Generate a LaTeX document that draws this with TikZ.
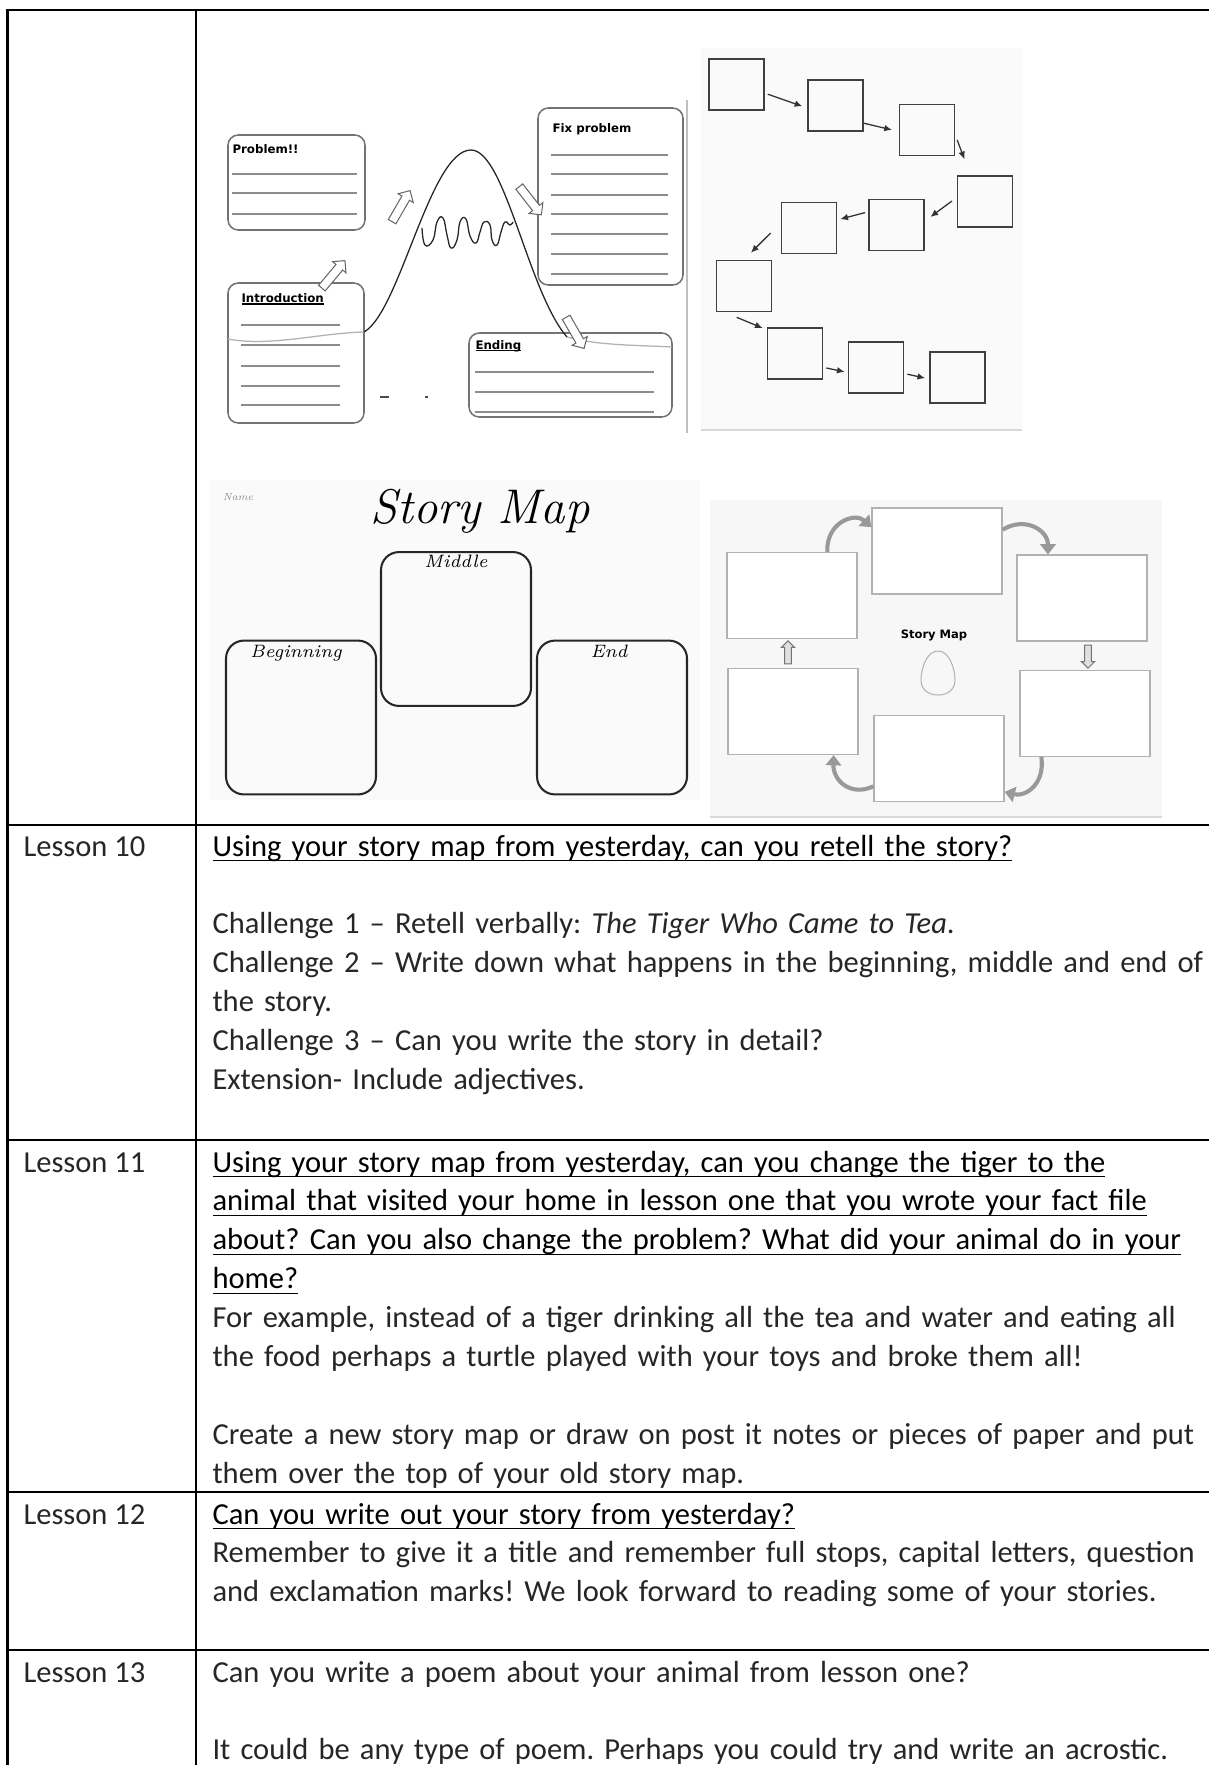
\documentclass[tikz,border=0pt]{standalone}
\usepackage{fontspec}
\usetikzlibrary{arrows.meta,shapes.arrows}
\newfontfamily\calib{Carlito}
\newfontfamily\comic{DejaVu Sans}
\newsavebox\headbox
\newcommand\undertext[2]{\leavevmode\sbox\headbox{#2}\rlap{\rule[-#1]{\wd\headbox}{0.45pt}}\usebox\headbox}
\newcommand\lessonhead[1]{{\color{black}\undertext{2pt}{#1}}}

\begin{document}
\begin{tikzpicture}[x=0.39pt,y=-0.39pt,
  rule/.style={line width=0.8pt},
  lesson/.style={anchor=base west,inner sep=0,font=\calib\fontsize{11.9}{15.2}\selectfont\frenchspacing,text=black!85},
  task/.style={anchor=base west,inner sep=0,text width=400pt,align=left,font=\calib\fontsize{11.9}{15.2}\selectfont\frenchspacing,text=black!85},
  mtbox/.style={draw=black!55,line width=0.6pt,rounded corners=4pt},
  mtline/.style={draw=black!45,line width=0.5pt},
  mtlabel/.style={anchor=west,inner sep=0,font=\comic\bfseries\fontsize{4.6}{5}\selectfont},
  hollow/.style={single arrow,draw=black!60,fill=white,line width=0.4pt,inner xsep=0,inner ysep=1.5pt,minimum height=14pt,single arrow head extend=1.7pt},
  flowbox/.style={draw=black!75,line width=0.6pt,minimum width=21.5pt,minimum height=20pt,inner sep=0},
  flowarr/.style={-{Latex[length=3pt,width=2.6pt]},line width=0.5pt,black!80},
  smbox/.style={draw=black!85,line width=0.8pt,rounded corners=7pt,minimum width=58.5pt,minimum height=60pt,inner sep=0},
  smlabel/.style={anchor=base,inner sep=0,font=\itshape\fontsize{7}{8}\selectfont},
  cmbox/.style={draw=black!30,line width=0.5pt,fill=white,minimum width=50.7pt,minimum height=33.5pt,inner sep=0},
  cmarr/.style={draw=black!40,line width=1.6pt,-{Triangle[length=4pt,width=6pt]}},
  cmblock/.style={single arrow,draw=black!55,fill=black!12,line width=0.4pt,inner xsep=0,inner ysep=1.1pt,minimum height=9pt,single arrow head extend=1.3pt}]
\useasboundingbox (0,0) rectangle (1209,1765);
% table
\draw[rule] (7.5,1765) -- (7.5,10) -- (1209,10);
\draw[rule] (196,10) -- (196,1765);
\draw[rule] (7.5,825) -- (1209,825);
\draw[rule] (7.5,1140) -- (1209,1140);
\draw[rule] (7.5,1492) -- (1209,1492);
\draw[rule] (7.5,1650) -- (1209,1650);
% story mountain
\draw[black!25,line width=0.4pt] (687,100) -- (687,433);
\draw[mtbox] (228,135) rectangle (365,230);
\node[mtlabel] (mtprob) at (232,149) {Problem!!};
\draw[mtline] (232,174) -- (357,174);
\draw[mtline] (232,193) -- (357,193);
\draw[mtline] (232,214) -- (357,214);
\draw[mtbox] (228,283) rectangle (364,423);
\node[mtlabel] (mtintro) at (241,299) {\undertext{0.8pt}{Introduction}};
\draw[mtline] (241,325) -- (340,325);
\draw[mtline] (241,345) -- (340,345);
\draw[mtline] (241,366) -- (340,366);
\draw[mtline] (241,386) -- (340,386);
\draw[mtline] (241,405) -- (340,405);
\draw[mtbox] (538,108) rectangle (683,285);
\node[mtlabel] (mtfix) at (552,129) {Fix problem};
\draw[mtline] (551,155) -- (668,155);
\draw[mtline] (551,174) -- (668,174);
\draw[mtline] (551,195) -- (668,195);
\draw[mtline] (551,214) -- (668,214);
\draw[mtline] (551,234) -- (668,234);
\draw[mtline] (551,254) -- (668,254);
\draw[mtline] (551,274) -- (668,274);
\draw[mtbox] (469,333) rectangle (672,417);
\node[mtlabel] (mtend) at (475,346) {\undertext{0.8pt}{Ending}};
\draw[mtline] (475,372) -- (654,372);
\draw[mtline] (475,392) -- (654,392);
\draw[mtline] (475,412) -- (654,412);
\draw[black!30,line width=0.5pt] (228,339) .. controls (270,347) and (320,333) .. (364,332);
\draw[black!30,line width=0.5pt] (567,337) .. controls (600,346) and (640,345) .. (672,347);
\draw[black!85,line width=0.5pt] (364,332) .. controls (400,312) and (430,150) .. (471,150) .. controls (505,150) and (528,292) .. (567,337);
\draw[black!85,line width=0.5pt] plot[smooth,tension=0.8] coordinates {(422,228) (425,245) (433,240) (437,222) (443,218) (447,235) (451,248) (457,240) (460,222) (466,219) (470,236) (476,243) (480,232) (484,222) (490,225) (492,240) (497,245) (501,232) (505,222) (510,225) (513,222)};
\node[hollow,rotate=50] (mtarr1) at (332,276) {};
\node[hollow,rotate=60] (mtarr2) at (400,208) {};
\node[hollow,rotate=-52] (mtarr3) at (529,199) {};
\node[hollow,rotate=-60] (mtarr4) at (574,331) {};
\draw[black!70,line width=0.6pt] (380,397) -- (389,397);
\draw[black!70,line width=0.6pt] (425,397) -- (428,397);
% flow of boxes
\fill[black!2] (701,48) rectangle (1022,430);
\draw[black!15,line width=0.8pt] (701,430) -- (1022,430);
\node[flowbox] (f1) at (736.5,84.5) {};
\node[flowbox] (f2) at (835.5,105.5) {};
\node[flowbox] (f3) at (927,130) {};
\node[flowbox] (f4) at (985,201.5) {};
\node[flowbox] (f5) at (896.5,225) {};
\node[flowbox] (f6) at (809,228) {};
\node[flowbox] (f7) at (744,286) {};
\node[flowbox] (f8) at (795,353.5) {};
\node[flowbox] (f9) at (876,367.5) {};
\node[flowbox] (f10) at (957.5,377.5) {};
\draw[flowarr,shorten <=1.2pt,shorten >=2pt] (f1.-17) -- (f2.185);
\draw[flowarr,shorten >=2.7pt] (f2.-32) -- (f3.183);
\draw[flowarr,shorten <=2pt,shorten >=6.6pt] (f3.-10) -- (f4.119);
\draw[flowarr,shorten <=2.3pt,shorten >=2.7pt] (f4.172) -- (f5.8);
\draw[flowarr,shorten <=1.2pt,shorten >=1.2pt] (f5.155) -- (f6.16);
\draw[flowarr,shorten <=5.5pt,shorten >=3.8pt] (f6.170) -- (f7.90);
\draw[flowarr,shorten <=5pt,shorten >=1.7pt] (f7.-126) -- (f8.140);
\draw[flowarr,shorten <=1.2pt,shorten >=1.2pt] (f8.-26) -- (f9.190);
\draw[flowarr,shorten <=1.2pt,shorten >=1.6pt] (f9.-12) -- (f10.183);
% story map, handwritten
\fill[black!2] (210,480) rectangle (700,800);
\node[inner sep=0,text=black!45,font=\itshape\fontsize{4}{5}\selectfont] (smname) at (238,497) {Name};
\node[anchor=base,inner sep=0,font=\itshape\fontsize{19}{20}\selectfont] (smtitle) at (480,523) {Story Map};
\node[smbox] (smmid) at (456,629) {};
\node[smbox] (smbeg) at (301,717.5) {};
\node[smbox] (smend) at (612,717.5) {};
\node[smlabel] (smlmid) at (456,567) {Middle};
\node[smlabel] (smlbeg) at (296,657) {Beginning};
\node[smlabel] (smlend) at (609,657) {End};
% story map, circle
\fill[black!3] (710,500) rectangle (1162,817);
\draw[black!15,line width=0.8pt] (710,817) -- (1162,817);
\node[cmbox] (cmtop) at (937,551) {};
\node[cmbox] (cmul) at (792,595.5) {};
\node[cmbox] (cmll) at (793,711.5) {};
\node[cmbox] (cmbot) at (939,758.5) {};
\node[cmbox] (cmur) at (1082,598) {};
\node[cmbox] (cmlr) at (1085,713.5) {};
\node[inner sep=0,font=\comic\bfseries\fontsize{4.5}{5}\selectfont] (cmtitle) at (934,635) {Story Map};
\draw[black!30,line width=0.4pt] (938,651) .. controls (950,651) and (955,670) .. (955,680) .. controls (955,690) and (947,695) .. (938,695) .. controls (929,695) and (921,690) .. (921,680) .. controls (921,670) and (926,651) .. (938,651);
\draw[cmarr] (cmul.51) .. controls (826,522) and (855,512) .. (cmtop.160);
\draw[cmarr] (cmtop.18) .. controls (1025,516) and (1048,530) .. (cmur.128);
\draw[cmarr] (cmlr.-135) .. controls (1045,785) and (1025,797) .. (cmbot.-27);
\draw[cmarr] (cmbot.203) .. controls (850,797) and (833,780) .. (cmll.-47);
\node[cmblock,rotate=90] (cmup) at (788,654) {};
\node[cmblock,rotate=-90] (cmdown) at (1088,655) {};
% lessons
\node[lesson] (l10) at (23,856) {Lesson 10};
\node[task] (t10) at (212,856) {\lessonhead{Using your story map from yesterday, can you retell the story?}\\[15.2pt]
Challenge 1 – Retell verbally: \textit{The Tiger Who Came to Tea}.\\
Challenge 2 – Write down what happens in the beginning, middle and end of\\
the story.\\
Challenge 3 – Can you write the story in detail?\\
Extension- Include adjectives.};
\node[lesson] (l11) at (23,1172) {Lesson 11};
\node[task] (t11) at (212,1172) {\lessonhead{Using your story map from yesterday, can you change the tiger to the}\\
\lessonhead{animal that visited your home in lesson one that you wrote your fact file}\\
\lessonhead{about? Can you also change the problem? What did your animal do in your}\\
\lessonhead{home?}\\
For example, instead of a tiger drinking all the tea and water and eating all\\
the food perhaps a turtle played with your toys and broke them all!\\[15.2pt]
Create a new story map or draw on post it notes or pieces of paper and put\\
them over the top of your old story map.};
\node[lesson] (l12) at (23,1524) {Lesson 12};
\node[task] (t12) at (212,1524) {\lessonhead{Can you write out your story from yesterday?}\\
Remember to give it a title and remember full stops, capital letters, question\\
and exclamation marks! We look forward to reading some of your stories.};
\node[lesson] (l13) at (23,1682) {Lesson 13};
\node[task] (t13) at (212,1682) {Can you write a poem about your animal from lesson one?\\[15.2pt]
It could be any type of poem. Perhaps you could try and write an acrostic.};
\end{tikzpicture}
\end{document}
